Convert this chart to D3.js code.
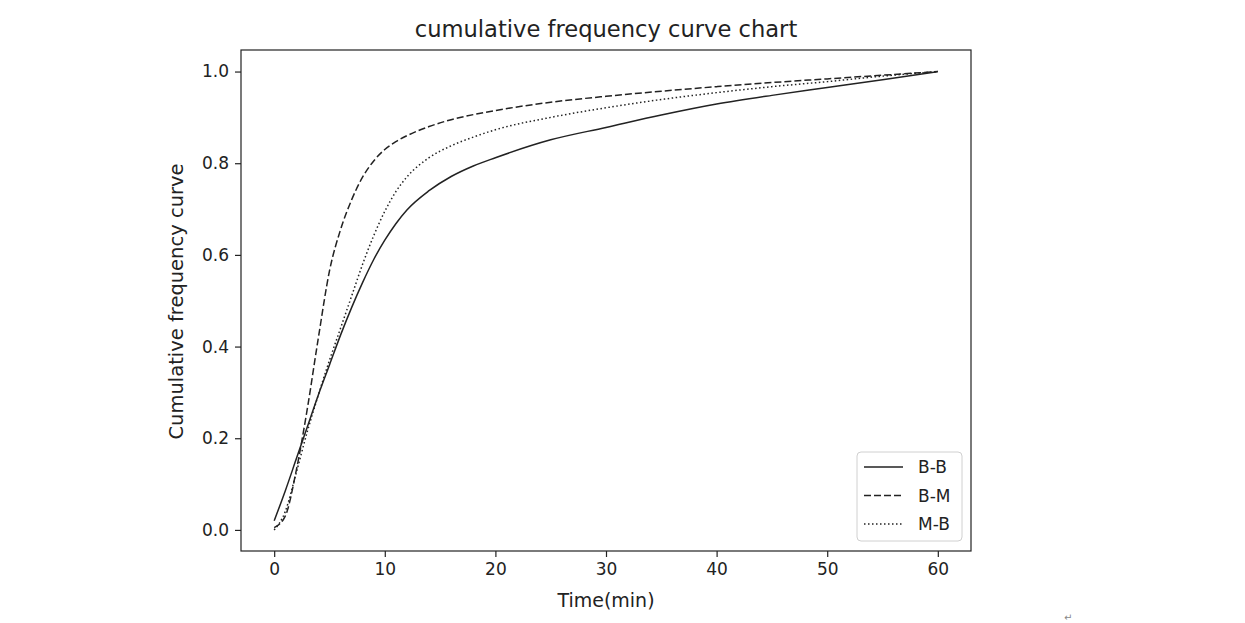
<!DOCTYPE html>
<html>
<head>
<meta charset="utf-8">
<script src="https://cdn.jsdelivr.net/npm/d3@7"></script>
<style>
  body { margin: 0; background: #fff; }
  text { font-family: "DejaVu Sans", sans-serif; fill: #222; }
</style>
</head>
<body>
<svg id="chart" width="1245" height="623"></svg>
<script>
// ---- data ----
const times = [0,1,2,3,4,5,6,7,8,9,10,11,12,14,16,18,20,25,30,35,40,45,50,55,60];
const seriesBB = [0.02,0.085,0.155,0.225,0.295,0.36,0.425,0.485,0.54,0.59,0.632,0.668,0.698,0.74,0.771,0.794,0.812,0.851,0.878,0.905,0.929,0.948,0.965,0.982,1.0];
const seriesBM = [0.005,0.03,0.13,0.265,0.42,0.565,0.655,0.72,0.77,0.805,0.83,0.847,0.86,0.88,0.895,0.906,0.915,0.933,0.946,0.957,0.967,0.976,0.984,0.992,1.0];
const seriesMB = [0.0,0.04,0.125,0.215,0.295,0.37,0.44,0.51,0.58,0.642,0.695,0.738,0.77,0.812,0.838,0.857,0.873,0.9,0.921,0.939,0.954,0.967,0.978,0.99,1.0];
const seriesNames = ["B-B","B-M","M-B"];
const xTicks = [0,10,20,30,40,50,60];
const yTicks = [0.0,0.2,0.4,0.6,0.8,1.0];
const titleText = "cumulative frequency curve chart";
const xLabel = "Time(min)";
const yLabel = "Cumulative frequency curve";

// ---- layout ----
const svg = d3.select("#chart");
const L = 241, T = 50, W = 730, H = 501;
const x = d3.scaleLinear().domain([-3, 63]).range([L, L + W]);
const y = d3.scaleLinear().domain([-0.046, 1.047]).range([T + H, T]);

const g = svg.append("g");

// curves
const styles = [
  { dash: null },
  { dash: "7,3" },
  { dash: "1.5,2.5" }
];
const allSeries = [seriesBB, seriesBM, seriesMB];
const line = d3.line().x(d => x(d[0])).y(d => y(d[1])).curve(d3.curveMonotoneX);
allSeries.forEach((s, i) => {
  g.append("path")
    .datum(times.map((t, k) => [t, s[k]]))
    .attr("d", line)
    .attr("fill", "none")
    .attr("stroke", "#222")
    .attr("stroke-width", 1.5)
    .attr("stroke-dasharray", styles[i].dash);
});

// frame
g.append("rect").attr("x", L).attr("y", T).attr("width", W).attr("height", H)
  .attr("fill", "none").attr("stroke", "#222").attr("stroke-width", 1.2);

// axes
const xAxis = d3.axisBottom(x).tickValues(xTicks).tickFormat(d3.format("d")).tickSize(6).tickPadding(6);
const yAxis = d3.axisLeft(y).tickValues(yTicks).tickFormat(d3.format(".1f")).tickSize(6).tickPadding(6);
const gx = svg.append("g").attr("transform", `translate(0,${T + H})`).call(xAxis);
const gy = svg.append("g").attr("transform", `translate(${L},0)`).call(yAxis);
[gx, gy].forEach(a => {
  a.select(".domain").remove();
  a.selectAll(".tick line").attr("stroke", "#222").attr("stroke-width", 1.2);
  a.selectAll(".tick text").attr("font-size", 17).attr("font-family", "DejaVu Sans").style("fill", "#222");
});

// title & labels
svg.append("text").attr("x", L + W / 2).attr("y", 37).attr("text-anchor", "middle")
  .attr("font-size", 22.6).text(titleText);
svg.append("text").attr("x", L + W / 2).attr("y", 607).attr("text-anchor", "middle")
  .attr("font-size", 19).text(xLabel);
svg.append("text").attr("transform", `translate(183,${T + H / 2 + 1}) rotate(-90)`)
  .attr("text-anchor", "middle").attr("font-size", 19.5).text(yLabel);

// legend
const lg = svg.append("g");
lg.append("rect").attr("x", 857).attr("y", 452).attr("width", 105).attr("height", 89)
  .attr("rx", 4).attr("fill", "#fff").attr("stroke", "#d0d0d0").attr("stroke-width", 1);
seriesNames.forEach((n, i) => {
  const yy = 467 + i * 28.5;
  lg.append("line").attr("x1", 864).attr("x2", 903).attr("y1", yy).attr("y2", yy)
    .attr("stroke", "#222").attr("stroke-width", 1.5).attr("stroke-dasharray", styles[i].dash);
  lg.append("text").attr("x", 918).attr("y", yy + 6).attr("font-size", 17).text(n);
});

// small return mark near bottom right
svg.append("text").attr("x", 1064).attr("y", 621).attr("font-size", 10).style("fill", "#888").text("\u21B5");
</script>
</body>
</html>
